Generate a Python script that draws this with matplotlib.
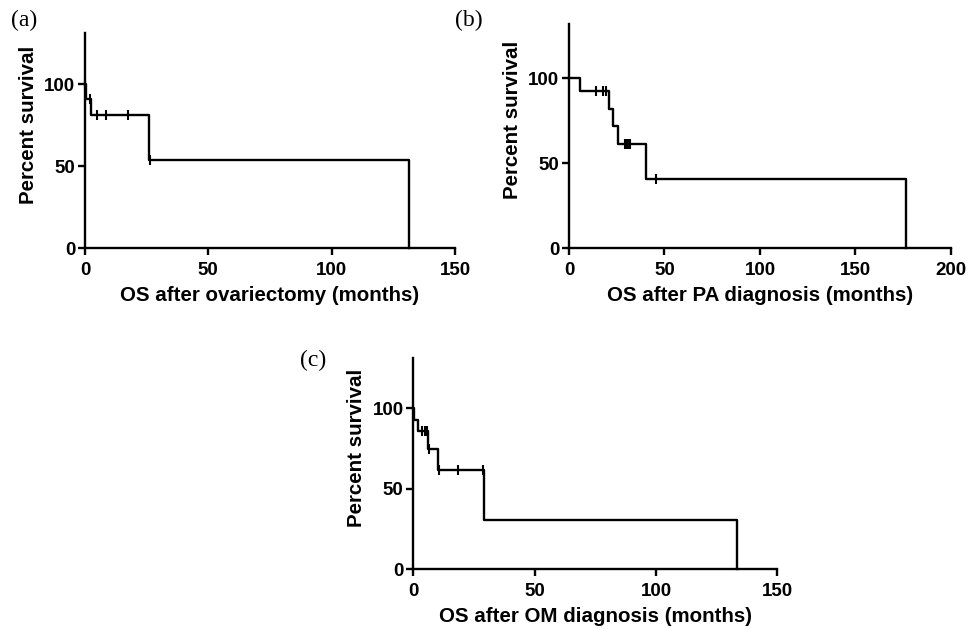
import numpy as np
import matplotlib
matplotlib.use('Agg')
from matplotlib import pyplot as plt

# (a) OS after ovariectomy
a_times = [0, 0.5, 2.6, 26, 131.5]
a_surv = [100, 90.9, 81, 54, 0]
a_cens_t = [0.2, 2.2, 4.7, 8.5, 17.3, 26.4]
a_cens_s = [100, 90.9, 81, 81, 81, 54]

# (b) OS after PA diagnosis
b_times = [0, 5.8, 21, 22.9, 25.7, 40.1, 176.3]
b_surv = [100, 92.3, 82, 72, 61.5, 41, 0]
b_cens_t = [14, 17.6, 19.4, 29.3, 30.3, 31.3, 32.2, 45.4]
b_cens_s = [92.3, 92.3, 92.3, 61.5, 61.5, 61.5, 61.5, 41]

# (c) OS after OM diagnosis
c_times = [0, 0.3, 1.8, 6.0, 10, 29.3, 133.4]
c_surv = [100, 92.9, 85.7, 74.5, 61.7, 30.8, 0]
c_cens_t = [3.4, 4.8, 5.6, 6.6, 10.6, 18.3, 28.8]
c_cens_s = [85.7, 85.7, 85.7, 74.5, 61.7, 61.7, 61.7]

plt.rcParams['font.family'] = ['Liberation Sans', 'DejaVu Sans']
plt.rcParams['font.weight'] = 'bold'

fig = plt.figure(figsize=(9.68, 6.29), dpi=100)


def km_panel(rect, times, surv, cens_t, cens_s, xmax, xticks, ymax, xlabel):
    ax = fig.add_axes(rect)
    ax.step(times, surv, where='post', color='black', lw=1.7, clip_on=False)
    ax.plot(cens_t, cens_s, ls='none', marker='|', ms=6.5, mew=1.5,
            color='black', clip_on=False)
    ax.set_xlim(0, xmax)
    ax.set_ylim(0, ymax)
    ax.set_xticks(xticks)
    ax.set_yticks([0, 50, 100])
    for s in ['top', 'right']:
        ax.spines[s].set_visible(False)
    for s in ['left', 'bottom']:
        ax.spines[s].set_linewidth(1.7)
    ax.tick_params(direction='out', length=5, width=1.7, labelsize=13.5)
    ax.tick_params(axis='x', pad=4.5)
    ax.tick_params(axis='y', pad=2)
    for lab in ax.get_xticklabels() + ax.get_yticklabels():
        lab.set_fontweight('bold')
    ax.set_xlabel(xlabel, fontsize=14.8, fontweight='bold')
    ax.set_ylabel('Percent survival', fontsize=14.8, fontweight='bold')
    # place labels in pixel terms like the original figure
    h = rect[3] * 629
    w = rect[2] * 968
    ax.xaxis.set_label_coords(0.5, -38 / h)
    ax.yaxis.set_label_coords(-47 / w, 0.572)
    return ax


km_panel([0.0878, 0.6052, 0.3822, 0.3418], a_times, a_surv, a_cens_t, a_cens_s,
         150, [0, 50, 100, 150], 131, 'OS after ovariectomy (months)')
km_panel([0.5878, 0.6052, 0.3946, 0.3561], b_times, b_surv, b_cens_t, b_cens_s,
         200, [0, 50, 100, 150, 200], 131.8, 'OS after PA diagnosis (months)')
km_panel([0.4270, 0.0949, 0.3760, 0.3364], c_times, c_surv, c_cens_t, c_cens_s,
         150, [0, 50, 100, 150], 131.4, 'OS after OM diagnosis (months)')

for txt, x, y in [('(a)', 0.011, 0.985), ('(b)', 0.470, 0.985), ('(c)', 0.310, 0.443)]:
    fig.text(x, y, txt, family='Liberation Serif', fontweight='normal',
             fontsize=17, va='top', ha='left')

fig.savefig('out.png', dpi=100)
